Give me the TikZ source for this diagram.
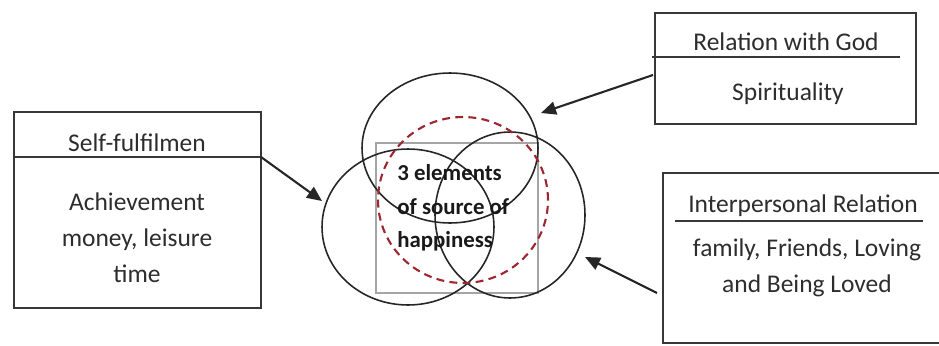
\documentclass[tikz,border=0pt]{standalone}
\usepackage{fontspec}
\setmainfont{Carlito}
\usepackage{xcolor}
\definecolor{txtgray}{RGB}{45,45,45}
\definecolor{framegray}{RGB}{55,55,55}
\definecolor{dashred}{RGB}{158,38,48}
\definecolor{rectgray}{RGB}{165,165,165}
\usetikzlibrary{arrows.meta,shapes.geometric}

\begin{document}
\begin{tikzpicture}[x=0.02cm, y=-0.02cm,
    boxfr/.style={rectangle, draw=framegray, line width=1.1pt, inner sep=0pt},
    boxtxt/.style={align=center, text=txtgray, inner sep=0pt,
                   font=\fontsize{14.5}{20.5}\selectfont},
    coretxt/.style={align=left, text=black!90, inner sep=0pt,
                    font=\bfseries\fontsize{13}{19}\selectfont},
    ring/.style={ellipse, draw=black!85, line width=0.9pt, inner sep=0pt},
    rule/.style={draw=framegray, line width=1.1pt},
    point/.style={-{Triangle[length=0.3cm, width=0.26cm]}, line width=1.2pt, draw=black!85}
  ]
  \useasboundingbox (0,0) rectangle (939,345);

  % the three boxes
  \node[boxfr, minimum width=4.94cm, minimum height=3.92cm] (selfbox) at (137.5,210) {};
  \node[boxfr, minimum width=5.22cm, minimum height=2.22cm] (godbox) at (785.5,68.5) {};
  \node[boxfr, minimum width=5.74cm, minimum height=3.4cm] (relbox) at (806.5,258) {};
  \draw[rule] (14,157) -- (261,157);
  \draw[rule] (652,57) -- (900,57);
  \draw[rule] (675,221) -- (923,221);

  \node[boxtxt] (selfhead) at (137,143) {Self-fulfilmen};
  \node[boxtxt] (selfbody) at (137,238) {Achievement\\money, leisure\\time};
  \node[boxtxt] (godhead) at (786,42) {Relation with God};
  \node[boxtxt] (godbody) at (788,94) {Spirituality};
  \node[boxtxt] (relhead) at (803,206) {Interpersonal Relation};
  \node[boxtxt] (relbody) at (807,268) {family, Friends, Loving\\and Being Loved};

  % circles in the middle
  \draw[rectgray, line width=1.1pt] (376,143) rectangle (538,293);
  \node[ring, minimum width=3.52cm, minimum height=3cm] (topc) at (450,148) {};
  \node[ring, minimum width=3.44cm, minimum height=3.12cm] (leftc) at (408,227) {};
  \node[ring, minimum width=3cm, minimum height=3.32cm] (rightc) at (510,215) {};
  \node[ellipse, draw=dashred, line width=1.2pt, dash pattern=on 4.5pt off 3pt,
        minimum width=3.4cm, minimum height=3.32cm, inner sep=0pt] (core) at (463,200) {};
  \node[coretxt, anchor=west] (coretext) at (397,208) {3 elements\\of source of\\happiness};

  % arrows
  \coordinate (selfout) at (261,157);
  \coordinate (selftip) at (322,201);
  \coordinate (godout) at (653,75);
  \coordinate (godtip) at (541,113);
  \coordinate (relout) at (657,293);
  \coordinate (reltip) at (585,257);
  \draw[point] (selfout) -- (selftip);
  \draw[point] (godout) -- (godtip);
  \draw[point] (relout) -- (reltip);
\end{tikzpicture}
\end{document}
